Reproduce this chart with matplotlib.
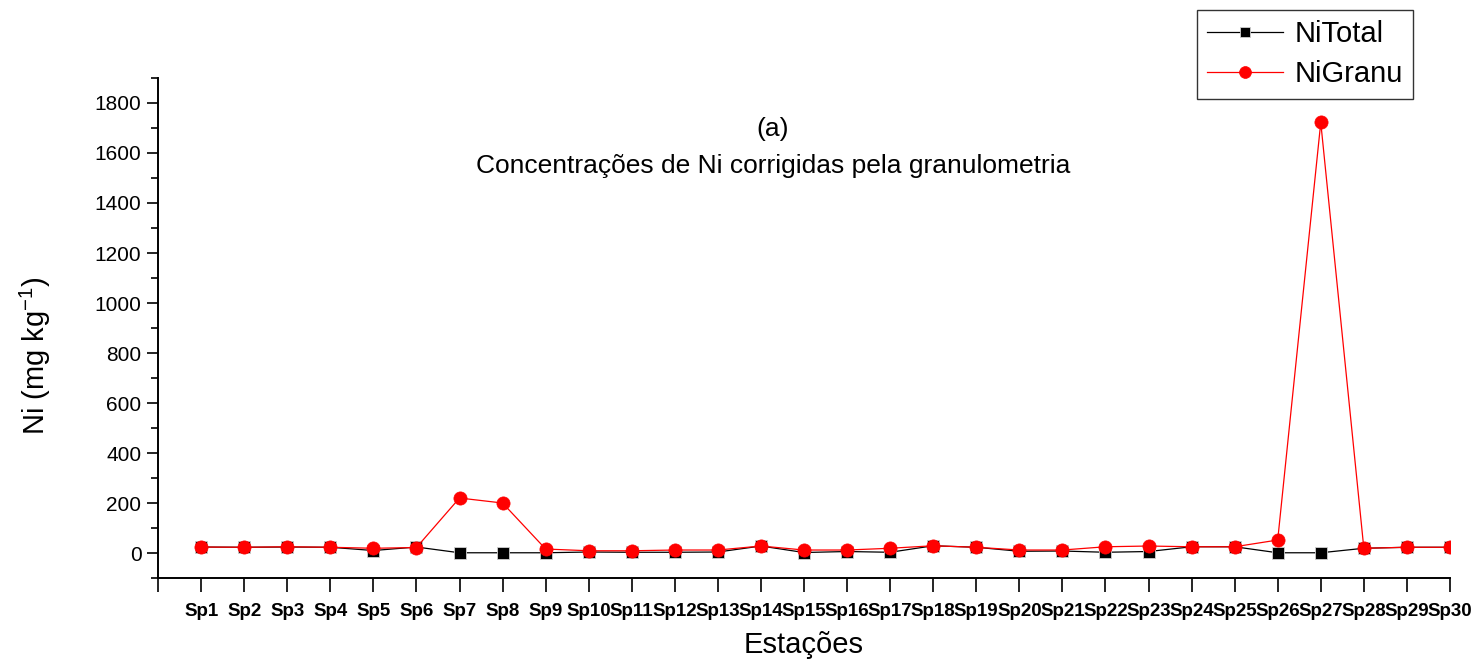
import matplotlib
matplotlib.use("Agg")
import matplotlib.pyplot as plt
from matplotlib.ticker import MultipleLocator, FixedLocator

plt.rcParams['font.family'] = ['Liberation Sans', 'DejaVu Sans']
plt.rcParams['mathtext.default'] = 'regular'

stations = [f"Sp{i}" for i in range(1, 31)]
ni_total = [24, 23, 24, 23, 10, 24, 1, 1, 1, 4,
            3, 3, 4, 28, 2, 6, 3, 29, 23, 7,
            8, 3, 6, 25, 25, 1, 1, 19, 23, 23]
ni_granu = [24, 23, 25, 23, 19, 22, 220, 200, 16, 9,
            9, 12, 12, 28, 12, 12, 19, 29, 23, 12,
            12, 25, 28, 25, 25, 52, 1722, 19, 23, 23]

fig = plt.figure(figsize=(14.8, 6.66), dpi=100)
ax = fig.add_axes([0.1068, 0.1321, 0.9797 - 0.1068, 0.8829 - 0.1321])

x = list(range(1, len(stations) + 1))
ax.plot(x, ni_total, color='black', lw=0.9, marker='s', ms=8.5,
        mfc='black', mec='#d0d0d0', mew=0.6, label='NiTotal', zorder=3)
ax.plot(x, ni_granu, color='red', lw=0.9, marker='o', ms=9.5,
        mfc='red', mec='red', mew=0.5, label='NiGranu', zorder=4)

ax.set_xlim(0, 30)
ax.set_ylim(-100, 1900)

ax.xaxis.set_major_locator(FixedLocator(range(0, 31)))
ax.set_xticklabels([''] + stations, fontsize=13.5, fontweight='bold')
ax.yaxis.set_minor_locator(MultipleLocator(100))
ax.set_yticks(range(0, 1801, 200))
ax.tick_params(axis='y', which='major', direction='out', length=8, width=1.2,
               labelsize=15, pad=4)
ax.tick_params(axis='y', which='minor', direction='out', length=5, width=1.2)
ax.tick_params(axis='x', which='major', direction='out', length=10, width=1.2,
               pad=8)

for side in ('top', 'right'):
    ax.spines[side].set_visible(False)
for side in ('left', 'bottom'):
    ax.spines[side].set_linewidth(1.4)

ax.set_xlabel('Estações', fontsize=21, labelpad=8)
fig.text(35 / 1480, 1 - 356 / 666, 'Ni (mg kg$^{-1}$)', rotation=90,
         ha='center', va='center', fontsize=21)

fig.text(773 / 1480, 1 - 129 / 666, '(a)', ha='center', va='center', fontsize=19)
fig.text(773 / 1480, 1 - 166 / 666, 'Concentrações de Ni corrigidas pela granulometria',
         ha='center', va='center', fontsize=19)

leg = fig.legend(loc='upper right', bbox_to_anchor=(1413 / 1480, 1 - 10 / 666),
                 borderaxespad=0, fontsize=21, frameon=True, fancybox=False,
                 edgecolor='black', handlelength=2.6, borderpad=0.35,
                 labelspacing=0.42, handletextpad=0.4, markerscale=0.9)
leg.get_frame().set_linewidth(1.0)

fig.savefig('out.png', dpi=100)
